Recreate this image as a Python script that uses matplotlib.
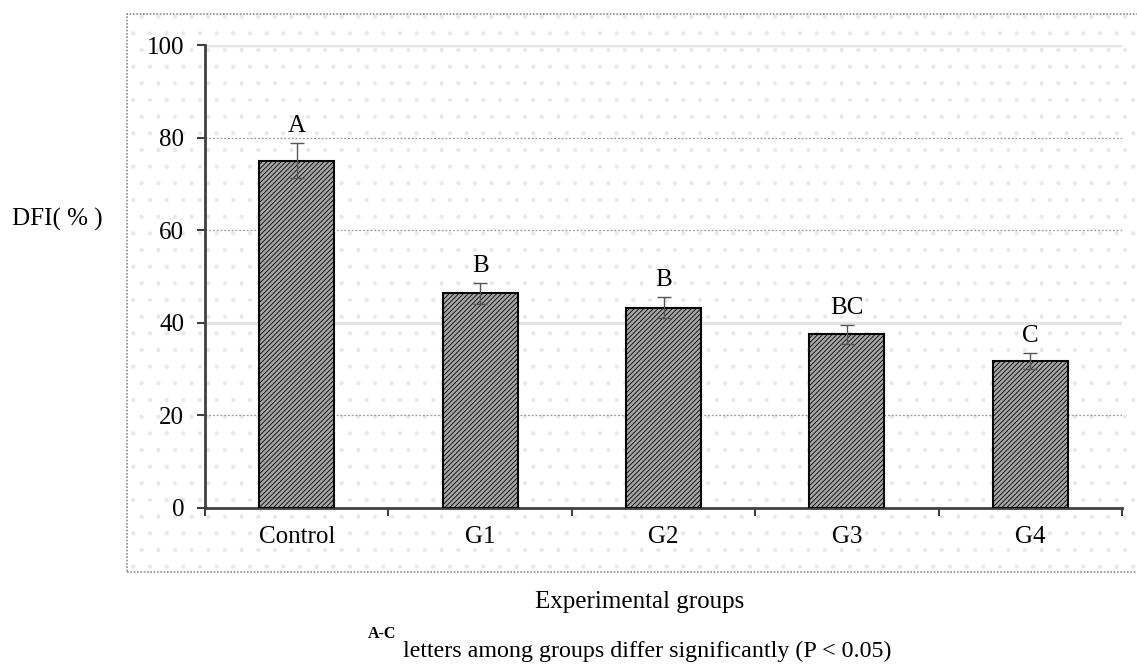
import matplotlib
matplotlib.use("Agg")
import matplotlib.pyplot as plt
from matplotlib.patches import Rectangle
import numpy as np

# values
groups = ["Control", "G1", "G2", "G3", "G4"]
dfi_mean = [75.0, 46.4, 43.3, 37.5, 31.7]
dfi_err = [3.8, 2.3, 2.2, 2.0, 1.7]
sig_letters = ["A", "B", "B", "BC", "C"]
yticks = [0, 20, 40, 60, 80, 100]

W, H = 1137, 665
plt.rcParams["font.family"] = ["Liberation Serif", "DejaVu Serif"]
plt.rcParams["hatch.linewidth"] = 0.6

fig = plt.figure(figsize=(W / 100, H / 100), dpi=100)


def fx(px):
    return px / W


def fy(py):
    return 1 - py / H


# chart-area frame with dotted background (Excel style), kept behind the axes
bg = Rectangle((fx(127), fy(572)), 1.0, fy(14) - fy(572), transform=fig.transFigure,
               facecolor="white", edgecolor="#e8e8e8", hatch=".", linewidth=0, zorder=-2)
fig.patches.append(bg)
border = Rectangle((fx(127), fy(572)), 1.0, fy(14) - fy(572), transform=fig.transFigure,
                   facecolor="none", edgecolor="#8a8a8a", linestyle=(0, (1, 1)),
                   linewidth=1.2, zorder=-1)
fig.patches.append(border)

ax = fig.add_axes([fx(205), fy(508), fx(1122) - fx(205), fy(45) - fy(508)])
ax.patch.set_alpha(0)

x = np.arange(len(groups))
ax.bar(x, dfi_mean, width=0.41, facecolor="#a6a6a6", edgecolor="black",
       linewidth=1.5, hatch="///////", zorder=3)
ax.errorbar(x, dfi_mean, yerr=dfi_err, fmt="none", ecolor="#555555",
            elinewidth=1.0, capsize=5, capthick=1.0, zorder=4)
for xi, m, e, lab in zip(x, dfi_mean, dfi_err, sig_letters):
    ax.text(xi, m + e + 1.3, lab, ha="center", va="bottom", fontsize=18, zorder=5)

ax.set_xlim(-0.5, len(groups) - 0.5)
ax.set_ylim(0, 100)
ax.set_yticks(yticks)
ax.set_xticks(x)
ax.set_xticklabels(groups, fontsize=18)
ax.set_xticks(np.arange(-0.5, len(groups), 1.0), minor=True)
ax.tick_params(axis="x", which="major", length=0, pad=13)
ax.tick_params(axis="x", which="minor", length=6, width=1.5, color="#404040", direction="out")
ax.tick_params(axis="y", length=6, width=1.5, color="#404040", direction="out",
               labelsize=18, pad=9)

for side in ("top", "right"):
    ax.spines[side].set_visible(False)
for side in ("left", "bottom"):
    ax.spines[side].set_color("#404040")
    ax.spines[side].set_linewidth(2)

# gridlines: Excel mix of solid light and dotted lines
for v in yticks[1:]:
    if v in (40, 100):
        ax.axhline(v, color="#e4e4e4", linewidth=2.5, zorder=1)
    else:
        ax.axhline(v, color="#9a9a9a", linewidth=0.9, linestyle=(0, (1.5, 1.5)), zorder=1)

fig.text(fx(12), fy(219), "DFI( % )", fontsize=18, ha="left", va="center")
fig.text(fx(640), fy(608), "Experimental groups", fontsize=18, ha="center", va="baseline")
fig.text(fx(368), fy(638), "A-C", fontsize=11.5, fontweight="bold", ha="left", va="baseline")
fig.text(fx(403), fy(657), "letters among groups differ significantly (P < 0.05)",
         fontsize=17.3, ha="left", va="baseline")

fig.savefig("out.png", dpi=100)
